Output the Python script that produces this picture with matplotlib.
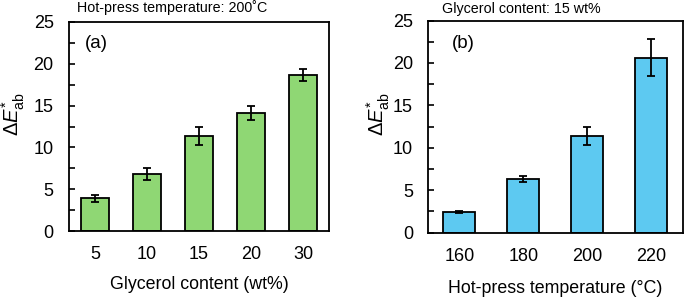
import matplotlib
matplotlib.use("Agg")
import matplotlib.pyplot as plt
from matplotlib.ticker import MultipleLocator

plt.rcParams['font.family'] = ['Liberation Sans', 'DejaVu Sans']
plt.rcParams['mathtext.fontset'] = 'custom'
plt.rcParams['mathtext.rm'] = 'Liberation Sans'
plt.rcParams['mathtext.it'] = 'Liberation Sans:italic'

# Data
glycerol_labels = ['5', '10', '15', '20', '30']
glycerol_values = [3.9, 6.8, 11.4, 14.1, 18.7]
glycerol_errors = [0.4, 0.7, 1.1, 0.8, 0.7]

temp_labels = ['160', '180', '200', '220']
temp_values = [2.4, 6.3, 11.4, 20.6]
temp_errors = [0.1, 0.4, 1.1, 2.2]

green = '#8fd774'
blue = '#5dc9f1'

fig = plt.figure(figsize=(6.85, 2.98), dpi=100)
ax1 = fig.add_axes([69/685, (298-231)/298, 260/685, 209/298])
ax2 = fig.add_axes([427.5/685, (298-232.5)/298, 255.5/685, 212/298])

def draw(ax, labels, values, errors, color, width, xlabel, label_pad, ypad):
    x = list(range(len(labels)))
    ax.bar(x, values, width=width, color=color, edgecolor='black', linewidth=1.3,
           yerr=errors, capsize=3, error_kw=dict(elinewidth=1.3, capthick=1.3, ecolor='black'),
           zorder=2)
    ax.set_xlim(-0.5, len(labels) - 0.5)
    ax.set_ylim(0, 25)
    ax.set_xticks(x)
    ax.set_xticklabels(labels)
    ax.yaxis.set_major_locator(MultipleLocator(5))
    ax.yaxis.set_minor_locator(MultipleLocator(2.5))
    ax.tick_params(axis='y', which='both', direction='in', length=4.5, width=1.2, labelsize=13, pad=ypad)
    ax.tick_params(axis='x', length=0, labelsize=13, pad=11)
    for s in ax.spines.values():
        s.set_linewidth(1.3)
    ax.set_xlabel(xlabel, fontsize=12.8, labelpad=label_pad)

draw(ax1, glycerol_labels, glycerol_values, glycerol_errors, green, 0.52,
     'Glycerol content (wt%)', 9, 11)
draw(ax2, temp_labels, temp_values, temp_errors, blue, 0.5,
     'Hot-press temperature (°C)', 11, 10.5)

ylab = 'Δ$\\mathit{E}^{*}_{\\mathrm{ab}}$'
fig.text(13/685, 1 - 114/298, ylab, rotation=90, ha='center', va='center', fontsize=14.5)
fig.text(378/685, 1 - 114/298, ylab, rotation=90, ha='center', va='center', fontsize=14.5)

fig.text(77/685, 1 - 8/298, 'Hot-press temperature: 200˚C', ha='left', va='center', fontsize=10.3)
fig.text(442/685, 1 - 9/298, 'Glycerol content: 15 wt%', ha='left', va='center', fontsize=10.3)

fig.text(96/685, 1 - 44/298, '(a)', ha='center', va='center', fontsize=13.5)
fig.text(463/685, 1 - 43/298, '(b)', ha='center', va='center', fontsize=13.5)

fig.savefig('out.png', dpi=100)
